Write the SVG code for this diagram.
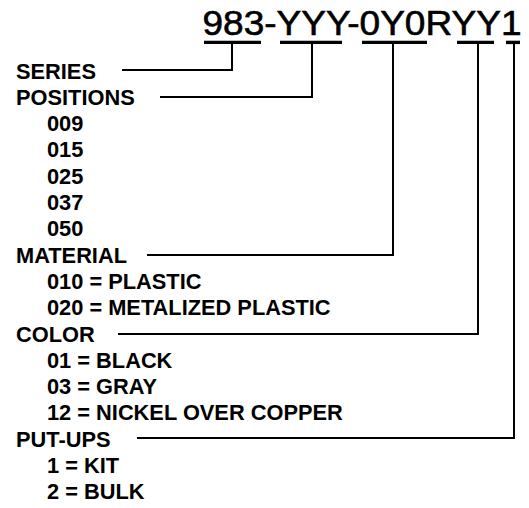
<svg xmlns="http://www.w3.org/2000/svg" width="529" height="508" viewBox="0 0 529 508">
<style>
.t{font-family:"Liberation Sans",Arial,sans-serif;font-weight:bold;font-size:21.8px;fill:#000}
.title{font-family:"Liberation Sans",Arial,sans-serif;font-size:35px;fill:#000;stroke:#000;stroke-width:0.6}
.c{stroke:#000;stroke-width:2;fill:none}
.u{stroke:#000;stroke-width:3.4;fill:none}
</style>
<rect width="529" height="508" fill="#fff"/>
<g id="title">
<text class="title" x="202.5" y="35" textLength="319" lengthAdjust="spacingAndGlyphs">983-YYY-0Y0RYY1</text>
<line class="u" x1="204" y1="42.4" x2="261" y2="42.4"/>
<line class="u" x1="280" y1="42.4" x2="342" y2="42.4"/>
<line class="u" x1="362" y1="42.4" x2="427" y2="42.4"/>
<line class="u" x1="457" y1="42.4" x2="494" y2="42.4"/>
<line class="u" x1="506" y1="42.4" x2="520" y2="42.4"/>
</g>
<g id="connectors">
<polyline class="c" points="122,70 232,70 232,44"/>
<polyline class="c" points="160,97 312,97 312,44"/>
<polyline class="c" points="147,255 393,255 393,44"/>
<polyline class="c" points="118,334 478,334 478,44"/>
<polyline class="c" points="137,438 514,438 514,44"/>
</g>
<g id="series"><text class="t" x="16" y="78.5">SERIES</text></g>
<g id="positions">
<text class="t" x="16" y="104.8">POSITIONS</text>
<text class="t" x="47" y="131.1">009</text>
<text class="t" x="47" y="157.4">015</text>
<text class="t" x="47" y="183.7">025</text>
<text class="t" x="47" y="210">037</text>
<text class="t" x="47" y="236.3">050</text>
</g>
<g id="material">
<text class="t" x="16" y="262.6">MATERIAL</text>
<text class="t" x="47" y="288.9">010 = PLASTIC</text>
<text class="t" x="47" y="315.2">020 = METALIZED PLASTIC</text>
</g>
<g id="color">
<text class="t" x="16" y="341.5">COLOR</text>
<text class="t" x="47" y="367.8">01 = BLACK</text>
<text class="t" x="47" y="394.1">03 = GRAY</text>
<text class="t" x="47" y="420.4">12 = NICKEL OVER COPPER</text>
</g>
<g id="putups">
<text class="t" x="16" y="446.7">PUT-UPS</text>
<text class="t" x="47" y="473">1 = KIT</text>
<text class="t" x="47" y="499.3">2 = BULK</text>
</g>
</svg>
